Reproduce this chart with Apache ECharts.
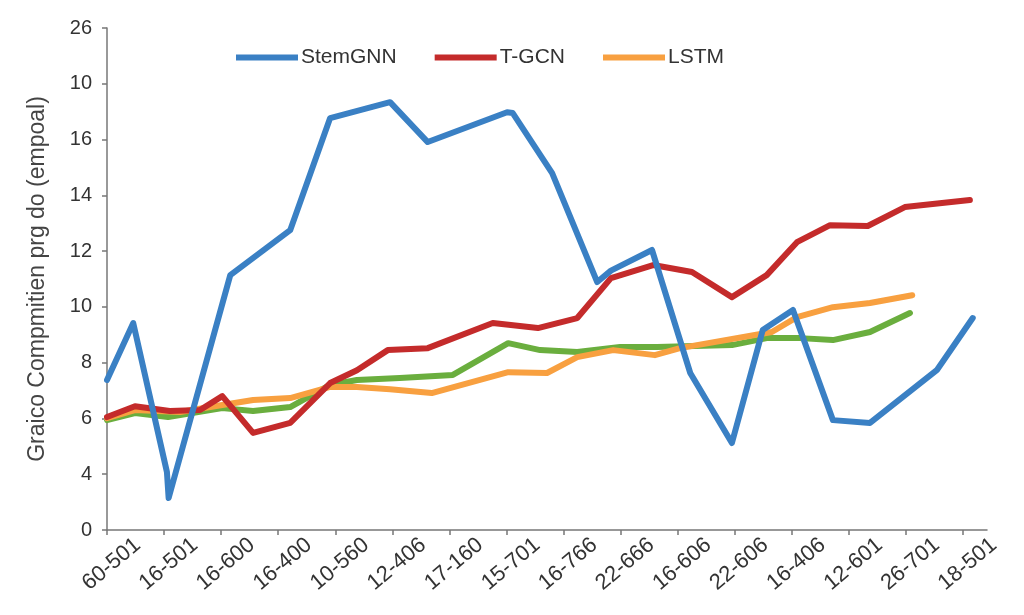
<!DOCTYPE html>
<html>
<head>
<meta charset="utf-8">
<script src="https://cdn.jsdelivr.net/npm/echarts@6/dist/echarts.min.js"></script>
<style>html,body{margin:0;padding:0;background:#fff;}#c{width:1024px;height:615px;}</style>
</head>
<body>
<div id="c"></div>
<script>
// Tick labels as printed in the reference
const xLabels = ["60-501","16-501","16-600","16-400","10-560","12-406","17-160","15-701","16-766","22-666","16-606","22-606","16-406","12-601","26-701","18-501"];
const yLabels = ["0","4","6","8","10","12","14","16","10","26"];
const seriesNames = ["StemGNN","T-GCN","LSTM","Other"];

// Series values: [x position (category index, fractional), value]
const stemgnn = [[0,7.38],[0.46,9.42],[1.05,4.08],[1.08,3.15],[2.16,11.14],[3.21,12.75],[3.91,16.77],[4.96,17.34],[5.62,15.91],[7.01,16.98],[7.11,16.95],[7.80,14.80],[8.59,10.89],[8.83,11.3],[9.55,12.04],[10.22,7.63],[10.95,5.12],[11.49,9.17],[12.02,9.89],[12.72,5.94],[13.37,5.84],[14.54,7.73],[15.17,9.60]];
const tgcn = [[0,6.05],[0.49,6.44],[1.10,6.27],[1.63,6.30],[2.02,6.80],[2.56,5.48],[3.21,5.84],[3.91,7.27],[4.38,7.73],[4.92,8.45],[5.62,8.52],[6.76,9.42],[7.55,9.24],[8.24,9.60],[8.83,11.03],[9.57,11.50],[10.25,11.25],[10.95,10.35],[11.56,11.14],[12.09,12.32],[12.67,12.93],[13.33,12.90],[13.98,13.58],[15.12,13.83]];
const lstm = [[0,6.01],[0.49,6.30],[1.28,6.23],[2.02,6.48],[2.56,6.66],[3.21,6.73],[3.91,7.13],[4.38,7.13],[4.96,7.05],[5.69,6.91],[7.03,7.66],[7.71,7.63],[8.24,8.20],[8.87,8.45],[9.60,8.27],[10.04,8.52],[11.65,9.10],[12.09,9.63],[12.72,9.99],[13.37,10.14],[14.11,10.42]];
const other = [[0,5.94],[0.49,6.19],[1.07,6.05],[2.02,6.37],[2.56,6.27],[3.21,6.41],[3.91,7.20],[4.38,7.38],[5.13,7.45],[6.06,7.56],[7.03,8.70],[7.59,8.45],[8.24,8.38],[8.99,8.56],[9.64,8.56],[10.95,8.63],[11.56,8.88],[12.14,8.88],[12.72,8.81],[13.37,9.10],[14.07,9.78]];

const colors = ["#3a80c4","#c42b2b","#f8a040","#6aae3e"];
const xIdx = xLabels.map((_, i) => i);

const chart = echarts.init(document.getElementById('c'));
const FONT = "Liberation Sans";
function line(name, data, color, z) {
  return { name, type: 'line', data, symbol: 'none', z,
    lineStyle: { color, width: 6, cap: 'round', join: 'round' }, itemStyle: { color } };
}
chart.setOption({
  animation: false,
  backgroundColor: '#fff',
  textStyle: { fontFamily: FONT },
  legend: {
    data: seriesNames.slice(0, 3),
    top: 42, left: 231,
    icon: 'rect', itemWidth: 62, itemHeight: 6, itemGap: 38,
    textStyle: { fontSize: 21, color: '#333', fontFamily: FONT, padding: [0, 0, 0, -2] }
  },
  grid: { left: 107, right: 37, top: 28, bottom: 85 },
  xAxis: {
    type: 'value', min: 0, max: 15.42,
    axisLine: { show: true, lineStyle: { color: '#777', width: 1.5 } },
    axisTick: { show: true, length: 5, customValues: xIdx, lineStyle: { color: '#777', width: 1.5 } },
    splitLine: { show: false },
    axisLabel: {
      customValues: xIdx, rotate: 40, fontSize: 22, color: '#333', margin: 38,
      align: 'center', verticalAlign: 'middle', padding: [0, 0, 0, 12],
      formatter: v => xLabels[Math.round(v)] || ''
    }
  },
  yAxis: {
    type: 'value', min: 2, max: 20, interval: 2,
    name: 'Graico Compmitien prg do (empoal)', nameLocation: 'middle', nameGap: 58, nameRotate: 90,
    nameTextStyle: { fontSize: 23, color: '#444', fontFamily: FONT },
    axisLine: { show: true, lineStyle: { color: '#777', width: 1.5 } },
    axisTick: { show: true, length: 5, lineStyle: { color: '#777', width: 1.5 } },
    splitLine: { show: false },
    axisLabel: { fontSize: 20, color: '#333', margin: 15,
      formatter: v => yLabels[Math.round((v - 2) / 2)] || '' }
  },
  series: [
    line(seriesNames[3], other, colors[3], 2),
    line(seriesNames[2], lstm, colors[2], 3),
    line(seriesNames[1], tgcn, colors[1], 4),
    line(seriesNames[0], stemgnn, colors[0], 5)
  ]
});
</script>
</body>
</html>
